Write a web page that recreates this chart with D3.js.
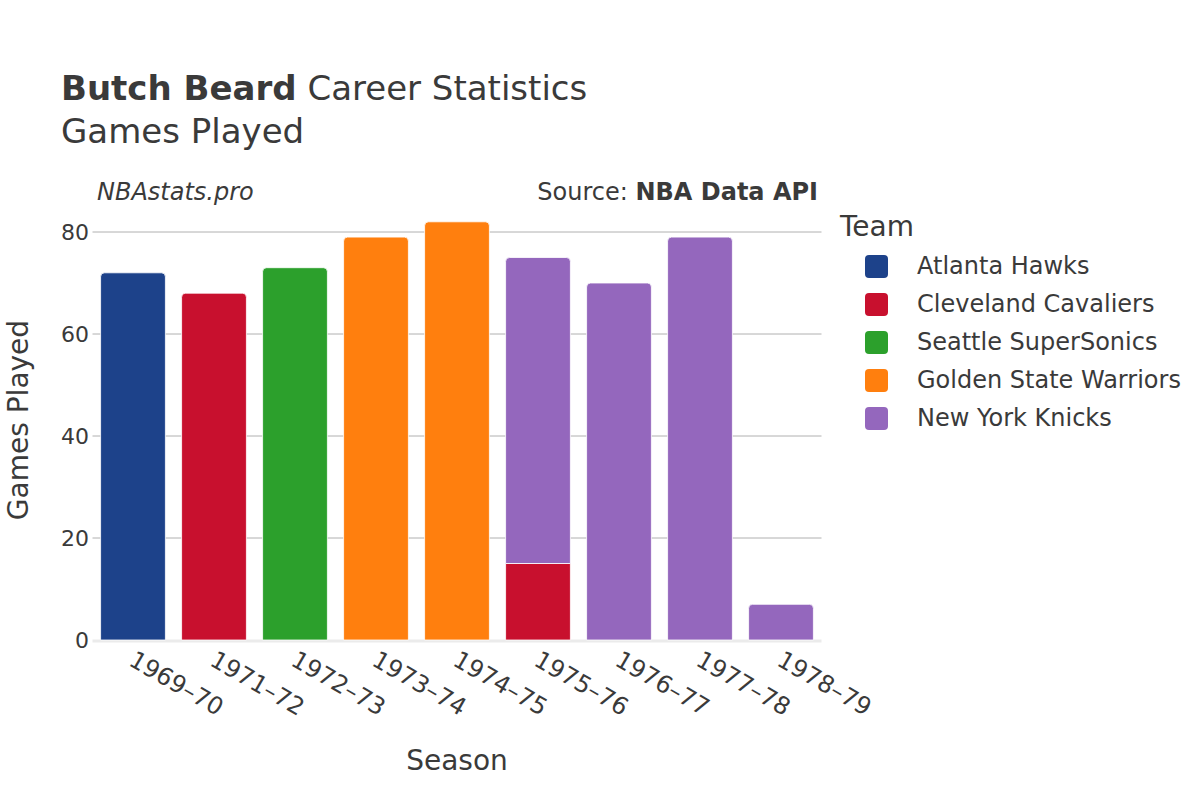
<!DOCTYPE html>
<html>
<head>
<meta charset="utf-8">
<script src="https://cdn.jsdelivr.net/npm/d3@7"></script>
<style>
  body { margin: 0; background: #fff; }
  text { font-family: "DejaVu Sans", sans-serif; fill: #3a3a3a; }
</style>
</head>
<body>
<div id="vis"></div>
<script>
var seasons = ["1969–70", "1971–72", "1972–73", "1973–74", "1974–75", "1975–76", "1976–77", "1977–78", "1978–79"],
    teams = ["Atlanta Hawks", "Cleveland Cavaliers", "Seattle SuperSonics", "Golden State Warriors", "New York Knicks"],
    colors = ["#1d428a", "#c8102e", "#2ca02c", "#ff7f0e", "#9467bd"],
    yTicks = [0, 20, 40, 60, 80];

// games played by each team, one value per season
var atlanta   = [72, 0, 0, 0, 0, 0, 0, 0, 0],
    cleveland = [0, 68, 0, 0, 0, 15, 0, 0, 0],
    seattle   = [0, 0, 73, 0, 0, 0, 0, 0, 0],
    golden    = [0, 0, 0, 79, 82, 0, 0, 0, 0],
    knicks    = [0, 0, 0, 0, 0, 60, 70, 79, 7];

var series = [atlanta, cleveland, seattle, golden, knicks];

var w = 1200, h = 800,
    pLeft = 92.5, pRight = 821.5, pTop = 232, pBottom = 640;

var svg = d3.select("#vis").append("svg")
    .attr("width", w)
    .attr("height", h);

var x = d3.scaleBand().domain(seasons).range([pLeft, pRight]).paddingInner(0.2).paddingOuter(0.1);
var y = d3.scaleLinear().domain([0, 80]).range([pBottom, pTop]);

// grid
svg.append("g").selectAll("line")
    .data(yTicks.filter(function(d) { return d > 0; }))
  .enter().append("line")
    .attr("x1", pLeft).attr("x2", pRight)
    .attr("y1", function(d) { return y(d); })
    .attr("y2", function(d) { return y(d); })
    .attr("stroke", "#b0b0b0").attr("stroke-width", 1);

svg.append("line")
    .attr("x1", pLeft).attr("x2", pRight)
    .attr("y1", y(0) + 1).attr("y2", y(0) + 1)
    .attr("stroke", "#ebebeb").attr("stroke-width", 3);

// stack the segments
var rows = [];
seasons.forEach(function(s, i) {
  var base = 0, segs = [];
  series.forEach(function(arr, t) {
    if (arr[i] > 0) {
      segs.push({season: s, team: t, y0: base, y1: base + arr[i]});
      base += arr[i];
    }
  });
  segs[segs.length - 1].last = true;
  rows = rows.concat(segs);
});

var r = 4;
function segPath(d) {
  var x0 = x(d.season), x1 = x0 + x.bandwidth(),
      yb = y(d.y0), yt = y(d.y1);
  if (!d.last)
    return "M" + x0 + "," + yb + "V" + yt + "H" + x1 + "V" + yb + "Z";
  return "M" + x0 + "," + yb + "V" + (yt + r) +
    "Q" + x0 + "," + yt + " " + (x0 + r) + "," + yt +
    "H" + (x1 - r) +
    "Q" + x1 + "," + yt + " " + x1 + "," + (yt + r) +
    "V" + yb + "Z";
}

svg.append("g").selectAll("path")
    .data(rows)
  .enter().append("path")
    .attr("d", segPath)
    .attr("fill", function(d) { return colors[d.team]; })
    .attr("stroke", "#fff").attr("stroke-width", 0.8);

// y axis labels
svg.append("g").selectAll("text")
    .data(yTicks)
  .enter().append("text")
    .attr("x", 89).attr("y", function(d) { return y(d); })
    .attr("dy", "0.35em")
    .attr("text-anchor", "end")
    .style("font-size", "22px")
    .text(function(d) { return d; });

// x axis labels
svg.append("g").selectAll("text")
    .data(seasons)
  .enter().append("text")
    .attr("transform", function(d) {
      return "translate(" + (x(d) + x.bandwidth() / 2 + 3) + "," + 650 + ") rotate(30)";
    })
    .attr("dy", "0.7em")
    .style("font-size", "24px")
    .text(function(d) { return d; });

// titles
var t = svg.append("text").attr("x", 61).attr("y", 100).style("font-size", "34px");
t.append("tspan").style("font-weight", "bold").text("Butch Beard");
t.append("tspan").text(" Career Statistics");
svg.append("text").attr("x", 61).attr("y", 143).style("font-size", "34px").text("Games Played");

svg.append("text").attr("x", 97).attr("y", 200)
    .style("font-size", "24px").style("font-style", "italic").text("NBAstats.pro");
var src = svg.append("text").attr("x", 818).attr("y", 200)
    .attr("text-anchor", "end").style("font-size", "24px");
src.append("tspan").text("Source: ");
src.append("tspan").style("font-weight", "bold").text("NBA Data API");

svg.append("text").attr("x", 457).attr("y", 770)
    .attr("text-anchor", "middle").style("font-size", "28px").text("Season");
svg.append("text")
    .attr("transform", "translate(28,420) rotate(-90)")
    .attr("text-anchor", "middle").style("font-size", "28px").text("Games Played");

// legend
svg.append("text").attr("x", 840).attr("y", 236).style("font-size", "28px").text("Team");
var lg = svg.append("g").selectAll("g")
    .data(teams)
  .enter().append("g")
    .attr("transform", function(d, i) { return "translate(865," + (266 + i * 38) + ")"; });
lg.append("rect")
    .attr("x", 0).attr("y", -11).attr("width", 23).attr("height", 23)
    .attr("rx", 4)
    .attr("fill", function(d, i) { return colors[i]; });
lg.append("text")
    .attr("x", 52).attr("dy", "0.35em")
    .style("font-size", "24px")
    .text(function(d) { return d; });
</script>
</body>
</html>
